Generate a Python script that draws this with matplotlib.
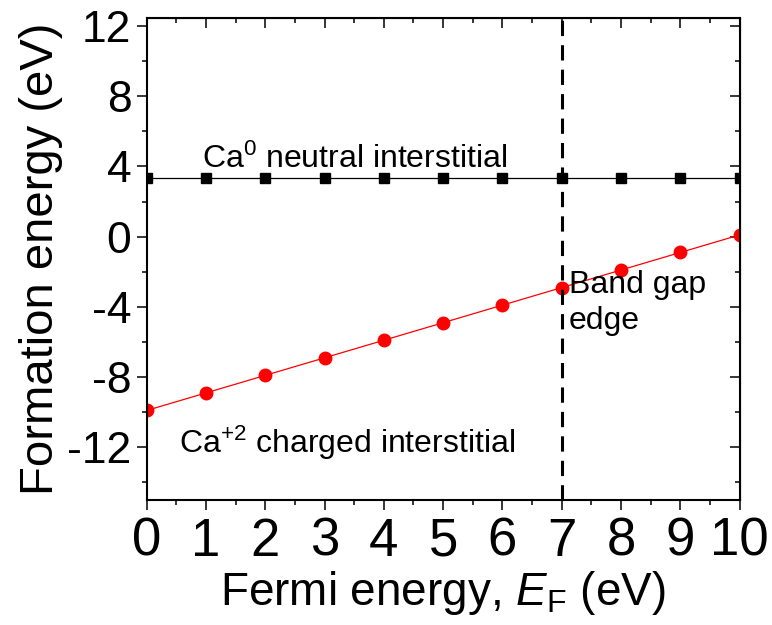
import matplotlib
matplotlib.use('Agg')
import matplotlib.pyplot as plt
import numpy as np
from matplotlib.ticker import MultipleLocator

plt.rcParams['font.family'] = ['Liberation Sans', 'DejaVu Sans']
plt.rcParams['mathtext.fontset'] = 'custom'
plt.rcParams['mathtext.rm'] = 'Liberation Sans'
plt.rcParams['mathtext.it'] = 'Liberation Sans:italic'
plt.rcParams['axes.unicode_minus'] = False

fermi = [0, 1, 2, 3, 4, 5, 6, 7, 8, 9, 10]
neutral = [3.35, 3.35, 3.35, 3.35, 3.35, 3.35, 3.35, 3.35, 3.35, 3.35, 3.35]
charged = [-9.9, -8.9, -7.9, -6.9, -5.9, -4.9, -3.9, -2.9, -1.9, -0.9, 0.1]
band_gap = 7

fig = plt.figure(figsize=(7.72, 6.25), dpi=100)
ax = fig.add_axes([0.190, 0.200, 0.768, 0.771])

ax.plot(fermi, neutral, color='black', lw=0.9, marker='s', ms=6.8)
ax.plot(fermi, charged, color='red', lw=0.9, marker='o', ms=9)
ax.axvline(band_gap, color='black', lw=2.2, ls=(0, (5, 3)))

ax.text(0.94, 3.94, 'Ca$^{0}$ neutral interstitial', fontsize=23)
ax.text(0.54, -12.34, 'Ca$^{+2}$ charged interstitial', fontsize=23)
ax.text(7.12, -3.2, 'Band gap', fontsize=23)
ax.text(7.12, -5.26, 'edge', fontsize=23)

ax.set_xlim(0, 10)
ax.set_ylim(-15, 12.45)
ax.xaxis.set_major_locator(MultipleLocator(1))
ax.xaxis.set_minor_locator(MultipleLocator(0.5))
ax.yaxis.set_major_locator(MultipleLocator(4))
ax.yaxis.set_minor_locator(MultipleLocator(2))

for s in ax.spines.values():
    s.set_linewidth(1.5)
ax.tick_params(which='both', direction='out', width=1.1)
ax.tick_params(which='major', length=7)
ax.tick_params(which='minor', length=3.5)
ax.tick_params(axis='x', labelsize=38, pad=5)
ax.tick_params(axis='y', labelsize=32, pad=4)

# mirrored ticks pointing into the box
top = ax.secondary_xaxis('top')
top.xaxis.set_major_locator(MultipleLocator(1))
top.xaxis.set_minor_locator(MultipleLocator(0.5))
top.tick_params(which='both', direction='in', width=1.1, labeltop=False)
top.tick_params(which='major', length=7)
top.tick_params(which='minor', length=3.5)
right = ax.secondary_yaxis('right')
right.yaxis.set_major_locator(MultipleLocator(4))
right.yaxis.set_minor_locator(MultipleLocator(2))
right.tick_params(which='both', direction='in', width=1.1, labelright=False)
right.tick_params(which='major', length=7)
right.tick_params(which='minor', length=3.5)

ax.set_xlabel('Fermi energy, $E_\\mathrm{F}$ (eV)', fontsize=33, labelpad=2)
ax.set_ylabel('Formation energy (eV)', fontsize=34, labelpad=3)

fig.savefig('out.png', dpi=100)
